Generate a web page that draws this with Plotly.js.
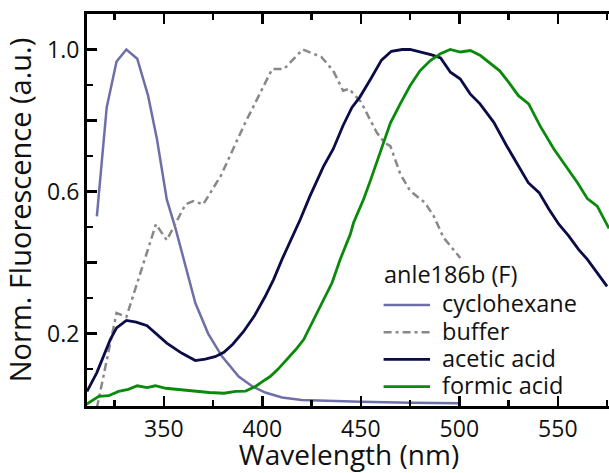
<!DOCTYPE html>
<html>
<head>
<meta charset="utf-8">
<script src="https://cdn.plot.ly/plotly-3.0.1.min.js"></script>
<style>
html, body { margin: 0; padding: 0; overflow: hidden; background: #fff; }
#chart { width: 612px; height: 473px; }
</style>
</head>
<body>
<div id="chart"></div>
<script>
// ---- data ----
const legendTitle = "anle186b (F)";
const seriesNames = ["cyclohexane", "buffer", "acetic acid", "formic acid"];

const cycloX = [316, 321, 326, 331, 336.5, 342, 346.5, 351.5, 356, 361, 366, 372.5, 379.5, 388, 395, 401.5, 410, 420, 435, 450, 475, 500];
const cycloY = [0.53, 0.837, 0.966, 1.0, 0.974, 0.87, 0.748, 0.578, 0.495, 0.39, 0.286, 0.2, 0.136, 0.079, 0.051, 0.034, 0.02, 0.013, 0.01, 0.008, 0.005, 0.004];

const bufferX = [316, 326, 331, 346, 351.5, 361, 365, 370, 379, 391, 405, 411, 420.5, 430, 436, 441, 444, 450, 458, 462, 465, 470, 475, 482.5, 487, 492, 500.5];
const bufferY = [-0.01, 0.258, 0.247, 0.508, 0.463, 0.564, 0.573, 0.564, 0.645, 0.79, 0.945, 0.945, 1.0, 0.979, 0.94, 0.884, 0.889, 0.853, 0.767, 0.738, 0.728, 0.65, 0.602, 0.569, 0.531, 0.47, 0.413];

const aceticX = [311, 316, 322.8, 326, 331, 336, 341.5, 346, 351.5, 359, 366, 371, 376, 380.5, 385, 390.5, 396, 401.5, 405.7, 410, 413, 419.3, 424, 431, 436, 441, 445.5, 449.5, 455, 460.5, 465.5, 471, 475, 480, 486, 490.5, 495.5, 500.5, 505.5, 510.5, 517.5, 524, 531, 535, 540.5, 545.5, 550.5, 555.5, 560.5, 565, 570, 575];
const aceticY = [0.037, 0.09, 0.183, 0.216, 0.237, 0.232, 0.222, 0.2, 0.173, 0.145, 0.124, 0.128, 0.135, 0.147, 0.17, 0.206, 0.25, 0.305, 0.352, 0.409, 0.445, 0.522, 0.585, 0.67, 0.72, 0.786, 0.837, 0.866, 0.917, 0.97, 0.995, 1.0, 1.0, 0.993, 0.985, 0.976, 0.936, 0.917, 0.875, 0.847, 0.795, 0.729, 0.665, 0.625, 0.597, 0.55, 0.508, 0.475, 0.437, 0.409, 0.371, 0.333];

const formicX = [310.5, 317, 322, 327, 332, 336.5, 341.5, 345.7, 351, 358, 366, 373, 380.5, 386.5, 391.5, 396.5, 401.5, 404, 408, 412.5, 417, 421, 427.8, 435.4, 439.6, 444.7, 446.3, 451.4, 454.8, 460, 465, 470, 475, 480, 485.3, 490.4, 495.4, 500.5, 505.6, 510.7, 515.8, 520.5, 525, 530, 535.2, 541, 548, 555, 560, 565, 570, 576];
const formicY = [0.0, 0.023, 0.025, 0.037, 0.043, 0.053, 0.048, 0.053, 0.046, 0.042, 0.037, 0.034, 0.032, 0.037, 0.038, 0.051, 0.07, 0.079, 0.1, 0.126, 0.155, 0.183, 0.258, 0.343, 0.41, 0.48, 0.512, 0.578, 0.63, 0.715, 0.793, 0.847, 0.898, 0.94, 0.969, 0.988, 1.0, 0.993, 0.997, 0.983, 0.96, 0.94, 0.908, 0.87, 0.847, 0.785, 0.72, 0.665, 0.625, 0.58, 0.559, 0.496];

const xTickVals = [350, 400, 450, 500, 550];
const xMinorVals = [325, 375, 425, 475, 525, 575];
const yTickVals = [0.2, 0.4, 0.6, 0.8, 1.0];
const yTickText = ["0.2", "", "0.6", "", "1.0"];
const yMinorVals = [0.1, 0.3, 0.5, 0.7, 0.9];

// ---- chart ----
const FONT = "Open Sans, Lato, sans-serif";
const TXT = "#111";
const lineStyles = [
  { color: "#6E6FA8", width: 2.5 },
  { color: "#888888", width: 2.5, dash: "8px,4px,3px,4px" },
  { color: "#0B0B48", width: 2.8 },
  { color: "#0A8A0A", width: 2.8 }
];
const xs = [cycloX, bufferX, aceticX, formicX];
const ys = [cycloY, bufferY, aceticY, formicY];

const traces = seriesNames.map((n, i) => ({
  x: xs[i], y: ys[i], name: n, mode: "lines", line: lineStyles[i], showlegend: false
}));

// legend block (drawn as annotations + short sample lines in paper space)
const legX0 = 0.566, legX1 = 0.6546, legTextX = 0.6735;
const legTitleY = 0.337, legRow0 = 0.2577, legRowStep = 0.0695;
const annotations = [{
  xref: "paper", yref: "paper", x: 0.563, y: legTitleY, xanchor: "left", yanchor: "middle",
  text: legendTitle, showarrow: false, font: { family: FONT, size: 23.5, color: TXT }
}];
const shapes = [];
seriesNames.forEach((n, i) => {
  const yy = legRow0 - i * legRowStep;
  annotations.push({
    xref: "paper", yref: "paper", x: legTextX, y: yy + 0.004, xanchor: "left", yanchor: "middle",
    text: n, showarrow: false, font: { family: FONT, size: 23.5, color: TXT }
  });
  shapes.push({
    type: "line", xref: "paper", yref: "paper", x0: legX0, x1: legX1, y0: yy, y1: yy,
    line: { color: lineStyles[i].color, width: lineStyles[i].width, dash: lineStyles[i].dash || "solid" }
  });
});

const axisCommon = {
  showgrid: false, zeroline: false, showline: true,
  linecolor: "#000", linewidth: 3,
  ticks: "inside", tickcolor: "#000", tickwidth: 2.5, ticklen: 10,
  tickfont: { family: FONT, size: 23, color: TXT },
  automargin: false
};

const layout = {
  width: 612, height: 473,
  margin: { l: 87, r: 1, t: 14, b: 67 },
  paper_bgcolor: "#fff", plot_bgcolor: "#fff",
  font: { family: FONT, color: TXT },
  showlegend: false,
  annotations: annotations,
  shapes: shapes,
  xaxis: Object.assign({}, axisCommon, {
    range: [311, 577],
    tickmode: "array", tickvals: xTickVals,
    mirror: "allticks",
    minor: { tickmode: "array", tickvals: xMinorVals, ticks: "inside", ticklen: 6, tickwidth: 2.5, tickcolor: "#000" },
    title: { text: "Wavelength (nm)", font: { family: FONT, size: 28, color: TXT }, standoff: 14 }
  }),
  yaxis: Object.assign({}, axisCommon, {
    range: [-0.004, 1.1],
    tickmode: "array", tickvals: yTickVals, ticktext: yTickText,
    mirror: false,
    minor: { tickmode: "array", tickvals: yMinorVals, ticks: "inside", ticklen: 6, tickwidth: 2.5, tickcolor: "#000" },
    title: { text: "Norm. Fluorescence (a.u.)\u00a0\u00a0\u00a0", font: { family: FONT, size: 29, color: TXT }, standoff: 8 }
  })
};

Plotly.newPlot("chart", traces, layout, { displayModeBar: false, staticPlot: true });
</script>
</body>
</html>
